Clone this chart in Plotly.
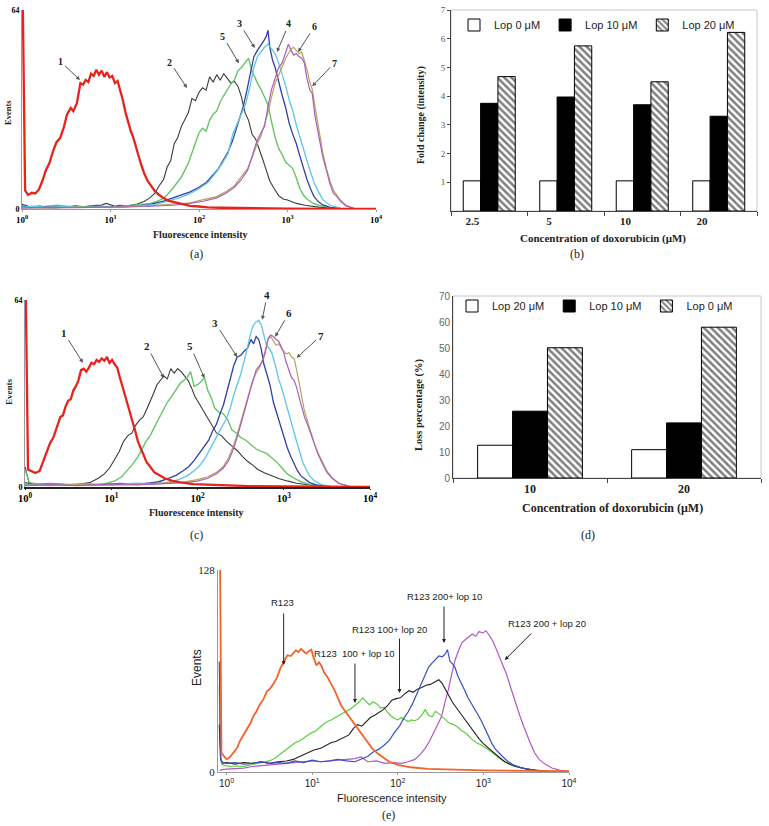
import numpy as np
import plotly.graph_objects as go

# ------------------------------------------------------------------ data
# histogram curves: channel position in decades (log10 of intensity) and event counts
A1_LOG = [0, 0.01, 0.035, 0.07, 0.11, 0.15, 0.19, 0.23, 0.27, 0.31, 0.35, 0.39, 0.43, 0.47, 0.51, 0.55, 0.58, 0.62, 0.66, 0.69, 0.72, 0.75, 0.78, 0.81, 0.84, 0.87, 0.9, 0.93, 0.96, 0.99, 1.02, 1.05, 1.08, 1.11, 1.14, 1.17, 1.2, 1.23, 1.26, 1.29, 1.32, 1.35, 1.38, 1.42, 1.46, 1.5, 1.55, 1.6, 1.66, 1.72, 1.8, 1.9, 2.0, 2.1, 2.25, 2.45, 2.7, 3.0, 3.5, 4.0]
A1_CNT = [66, 64, 6, 4.5, 5.2, 5.0, 6.2, 9.0, 12.5, 14.8, 18.5, 21.5, 22.8, 26, 30.5, 32.5, 31.5, 34, 40.5, 40, 41.5, 40.8, 43.5, 42.8, 44.8, 43.2, 44.5, 42.5, 44, 42.3, 42.8, 40.5, 41.2, 38.5, 35, 31, 27.5, 25, 22.8, 19.5, 16.8, 14, 11.5, 9, 7.2, 5.8, 4.5, 3.5, 2.6, 2.2, 1.5, 1.0, 0.8, 0.5, 0.4, 0.3, 0.2, 0.1, 0.05, 0]
A2_LOG = [0, 0.1, 0.2, 0.3, 0.4, 0.5, 0.6, 0.7, 0.8, 0.9, 0.95, 1.0, 1.05, 1.1, 1.2, 1.3, 1.38, 1.44, 1.5, 1.55, 1.6, 1.64, 1.68, 1.72, 1.76, 1.8, 1.84, 1.88, 1.92, 1.96, 2.0, 2.04, 2.08, 2.12, 2.16, 2.2, 2.24, 2.28, 2.32, 2.36, 2.4, 2.44, 2.48, 2.52, 2.56, 2.6, 2.64, 2.68, 2.72, 2.76, 2.8, 2.85, 2.9, 2.95, 3.0, 3.1, 3.2, 3.35, 3.5, 3.7]
A2_CNT = [1.5, 0.6, 0.9, 0.5, 0.8, 0.6, 1.0, 0.7, 1.1, 1.3, 1.8, 1.4, 0.9, 1.2, 1.0, 1.6, 2.4, 3.5, 5, 7.5, 9.5, 13.5, 15.5, 21, 23, 26.5, 29, 31, 35.5, 34.8, 37.5, 39, 38.2, 42.5, 40.8, 43.2, 41.5, 43.5, 42.0, 40.5, 41, 39.5, 36, 31, 28.5, 24, 22.5, 19.5, 16, 12.5, 9, 6.5, 4.3, 3.2, 2.9, 1.8, 1.2, 0.6, 0.3, 0]
A5_LOG = [0, 0.1, 0.25, 0.4, 0.6, 0.8, 1.0, 1.2, 1.35, 1.45, 1.52, 1.58, 1.64, 1.7, 1.75, 1.8, 1.84, 1.88, 1.92, 1.96, 2.0, 2.04, 2.08, 2.12, 2.16, 2.2, 2.24, 2.28, 2.32, 2.36, 2.4, 2.44, 2.48, 2.52, 2.56, 2.6, 2.63, 2.66, 2.7, 2.74, 2.78, 2.82, 2.86, 2.9, 2.94, 2.98, 3.02, 3.06, 3.1, 3.14, 3.18, 3.22, 3.28, 3.35, 3.45, 3.6]
A5_CNT = [1.0, 0.5, 0.8, 1.2, 0.6, 0.9, 0.6, 1.0, 1.5, 1.8, 2.4, 3.2, 4.5, 6.5, 8.3, 10.2, 12.5, 14.8, 18, 21.5, 24.5, 26, 25, 28.5, 30.5, 31.5, 34.5, 36.5, 38.5, 40.2, 41.5, 44.5, 45.5, 47, 48.5, 44, 42.5, 40.5, 38.5, 36, 33.5, 28, 23, 19.5, 17.5, 15, 14, 13, 10, 6.5, 4.5, 3.2, 2.0, 1.2, 0.6, 0.2]
A3_LOG = [0, 0.1, 0.2, 0.35, 0.5, 0.7, 0.9, 1.1, 1.3, 1.45, 1.6, 1.7, 1.8, 1.9, 2.0, 2.08, 2.16, 2.22, 2.28, 2.33, 2.38, 2.42, 2.46, 2.5, 2.54, 2.58, 2.62, 2.66, 2.7, 2.73, 2.76, 2.78, 2.8, 2.83, 2.86, 2.9, 2.94, 2.98, 3.02, 3.06, 3.1, 3.14, 3.18, 3.22, 3.26, 3.3, 3.35, 3.4, 3.48, 3.6]
A3_CNT = [0.8, 0.5, 0.9, 0.4, 0.7, 0.5, 0.8, 0.6, 1.0, 1.5, 2.5, 3.5, 4.5, 5.5, 7, 8.5, 11, 13, 16, 18.5, 22, 25.5, 29, 33, 38, 44, 49, 51, 52.5, 54, 55.5, 57.5, 52, 48, 45.5, 40.5, 36.5, 32.5, 27.5, 24, 21, 17, 13, 9.5, 6.5, 4, 2.3, 1.3, 0.5, 0.1]
A4_LOG = [0, 0.15, 0.3, 0.5, 0.7, 0.9, 1.1, 1.3, 1.5, 1.65, 1.8, 1.9, 2.0, 2.1, 2.2, 2.27, 2.33, 2.38, 2.43, 2.48, 2.53, 2.58, 2.62, 2.66, 2.7, 2.74, 2.78, 2.82, 2.86, 2.9, 2.94, 2.98, 3.02, 3.06, 3.1, 3.14, 3.18, 3.22, 3.26, 3.3, 3.35, 3.4, 3.48, 3.6]
A4_CNT = [0.6, 0.9, 0.5, 0.8, 0.5, 0.7, 0.6, 0.9, 1.4, 2.5, 3.8, 5, 6.5, 8.5, 12, 15, 18, 24, 27.5, 30.5, 34, 40, 45.5, 49, 50.5, 52, 53, 51.5, 50, 47, 43.5, 39.5, 35, 31.5, 27, 23, 19.5, 15.5, 12, 8.5, 5.5, 3, 1.2, 0.3]
A6_LOG = [0, 0.3, 0.6, 1.0, 1.4, 1.7, 1.9, 2.05, 2.2, 2.3, 2.4, 2.48, 2.55, 2.6, 2.65, 2.7, 2.74, 2.78, 2.82, 2.86, 2.9, 2.94, 2.98, 3.01, 3.04, 3.07, 3.1, 3.13, 3.16, 3.19, 3.22, 3.25, 3.28, 3.31, 3.34, 3.37, 3.4, 3.44, 3.48, 3.52, 3.56, 3.6, 3.66, 3.75]
A6_CNT = [0.3, 0.5, 0.4, 0.6, 0.8, 1.2, 1.8, 2.5, 3.6, 5, 7, 9.5, 12.5, 17, 21.5, 24.5, 26.5, 33, 38.5, 42, 45.5, 47, 50.5, 53, 51, 49.5, 50, 49, 48.5, 47, 42, 38.5, 37, 30, 25.5, 21.5, 16.5, 12.5, 8, 5, 4, 2.5, 1, 0.2]
A7_LOG = [0, 0.3, 0.6, 1.0, 1.4, 1.7, 1.9, 2.05, 2.2, 2.3, 2.4, 2.48, 2.55, 2.6, 2.65, 2.7, 2.74, 2.78, 2.82, 2.86, 2.9, 2.94, 2.98, 3.01, 3.04, 3.07, 3.1, 3.13, 3.16, 3.19, 3.22, 3.25, 3.28, 3.31, 3.34, 3.37, 3.4, 3.44, 3.48, 3.52, 3.56, 3.6, 3.66, 3.75]
A7_CNT = [0.4, 0.3, 0.6, 0.5, 0.9, 1.5, 2.0, 3.0, 4.0, 5.5, 7.5, 10.5, 13, 16.5, 20.5, 23.5, 27, 31, 36, 40.5, 43, 46, 48.5, 50, 51.5, 52, 51, 50, 50.5, 48, 45, 41, 38.5, 33, 28, 23, 18, 13, 9, 6, 4.5, 2.8, 1.2, 0.2]

C1_LOG = [0, 0.01, 0.035, 0.07, 0.12, 0.17, 0.21, 0.25, 0.29, 0.33, 0.37, 0.41, 0.44, 0.47, 0.5, 0.53, 0.56, 0.59, 0.62, 0.65, 0.68, 0.71, 0.74, 0.77, 0.8, 0.83, 0.86, 0.89, 0.92, 0.95, 0.98, 1.01, 1.04, 1.07, 1.1, 1.13, 1.16, 1.19, 1.22, 1.25, 1.28, 1.31, 1.34, 1.37, 1.41, 1.45, 1.5, 1.56, 1.62, 1.7, 1.8, 1.95, 2.1, 2.3, 2.6, 3.0, 3.5, 4.0]
C1_CNT = [66, 64, 6, 5.5, 4.8, 5.5, 8.5, 12, 15, 17, 20.5, 24, 24.5, 27.5, 29.5, 30, 33, 34.5, 36.5, 40, 40.5, 39.5, 40.8, 42.5, 42, 43.5, 42.8, 44, 43.2, 44.5, 42.5, 43.5, 42, 40.8, 37.5, 34.5, 31, 28, 25, 22, 19, 15.5, 13.5, 11.5, 8.5, 7, 5, 4, 3, 2.2, 1.6, 1.0, 0.8, 0.5, 0.3, 0.2, 0.1, 0]
C2_LOG = [0, 0.05, 0.2, 0.4, 0.6, 0.75, 0.85, 0.92, 0.98, 1.04, 1.09, 1.14, 1.19, 1.24, 1.28, 1.33, 1.37, 1.41, 1.45, 1.49, 1.53, 1.57, 1.61, 1.65, 1.69, 1.73, 1.77, 1.81, 1.85, 1.89, 1.93, 1.97, 2.01, 2.06, 2.11, 2.16, 2.22, 2.28, 2.34, 2.4, 2.46, 2.52, 2.58, 2.64, 2.7, 2.78, 2.86, 2.95, 3.05, 3.15, 3.3, 3.5]
C2_CNT = [7, 1, 0.6, 0.9, 0.8, 1.5, 3, 4.5, 6.5, 9.5, 12, 15.5, 17.5, 18.5, 21, 23, 24, 26.5, 29, 32, 35, 36.5, 38, 37, 40.5, 39, 40.5, 39.5, 38, 36.5, 34, 31, 29, 26.5, 23.5, 21, 18.5, 17.5, 15.5, 14, 12.5, 10.5, 8.8, 7.5, 6, 4.8, 3.8, 2.8, 2, 1.3, 0.7, 0.2]
C5_LOG = [0, 0.05, 0.2, 0.4, 0.6, 0.8, 0.95, 1.05, 1.12, 1.18, 1.24, 1.3, 1.35, 1.4, 1.45, 1.5, 1.55, 1.6, 1.65, 1.7, 1.75, 1.8, 1.84, 1.88, 1.92, 1.96, 2.0, 2.04, 2.08, 2.12, 2.16, 2.2, 2.25, 2.3, 2.35, 2.4, 2.45, 2.5, 2.56, 2.62, 2.68, 2.74, 2.8, 2.86, 2.92, 2.98, 3.04, 3.12, 3.2, 3.3, 3.45]
C5_CNT = [6, 1.5, 0.8, 0.6, 0.9, 0.7, 1.3, 2.2, 3.5, 5.5, 7.5, 10, 12.5, 15.5, 17.5, 20.5, 23.5, 26.5, 29, 31, 33.5, 35.5, 36.5, 37.5, 39.5, 34.5, 35, 36, 37.5, 33, 30.5, 27, 25.5, 25, 23, 19.5, 18.5, 17, 16, 14.5, 13, 12.2, 11.5, 10, 8.5, 6.5, 4.5, 3, 1.8, 0.9, 0.3]
C3_LOG = [0, 0.1, 0.3, 0.5, 0.7, 0.9, 1.1, 1.3, 1.45, 1.55, 1.65, 1.75, 1.83, 1.9, 1.96, 2.02, 2.08, 2.13, 2.18, 2.22, 2.26, 2.3, 2.34, 2.38, 2.42, 2.46, 2.5, 2.54, 2.58, 2.62, 2.65, 2.68, 2.71, 2.74, 2.77, 2.8, 2.84, 2.88, 2.92, 2.96, 3.0, 3.04, 3.08, 3.12, 3.16, 3.2, 3.25, 3.3, 3.38, 3.5]
C3_CNT = [1.5, 0.8, 1.2, 0.7, 1.0, 0.8, 1.2, 1.0, 1.4, 1.8, 2.8, 4, 5.5, 7, 9, 11.5, 14, 16, 19.5, 21.5, 25, 28, 32.5, 37, 41.5, 44.5, 45, 46.5, 47.5, 50.5, 49, 51.5, 50.5, 47, 42, 39, 35, 29, 25, 21, 17, 13.5, 10.5, 8, 5.5, 3.8, 2.5, 1.5, 0.7, 0.2]
C4_LOG = [0, 0.1, 0.3, 0.5, 0.7, 0.9, 1.1, 1.3, 1.5, 1.65, 1.78, 1.88, 1.96, 2.03, 2.1, 2.16, 2.22, 2.28, 2.33, 2.38, 2.42, 2.46, 2.5, 2.54, 2.58, 2.62, 2.65, 2.68, 2.71, 2.74, 2.77, 2.8, 2.83, 2.86, 2.9, 2.94, 2.98, 3.02, 3.06, 3.1, 3.14, 3.18, 3.22, 3.26, 3.3, 3.36, 3.44, 3.55]
C4_CNT = [1.0, 0.7, 1.1, 0.8, 1.1, 0.7, 1.0, 1.3, 1.0, 1.6, 2.5, 3.8, 5.5, 7.5, 10.5, 14, 17, 20.5, 23, 27, 31.5, 35, 38.5, 43, 48, 53, 55.5, 56.5, 57, 55.5, 52, 48.5, 47.5, 46, 42, 37, 33.5, 29, 24.5, 20.5, 16.5, 12.5, 8.5, 6, 3.8, 2, 0.8, 0.2]
C6_LOG = [0, 0.3, 0.6, 1.0, 1.3, 1.6, 1.85, 2.0, 2.12, 2.22, 2.3, 2.36, 2.41, 2.46, 2.51, 2.56, 2.6, 2.64, 2.68, 2.72, 2.76, 2.79, 2.82, 2.85, 2.88, 2.91, 2.94, 2.97, 3.0, 3.03, 3.06, 3.09, 3.12, 3.15, 3.18, 3.21, 3.24, 3.28, 3.32, 3.36, 3.4, 3.45, 3.5, 3.56, 3.64, 3.75]
C6_CNT = [0.5, 0.8, 0.5, 0.9, 0.7, 1.0, 1.5, 2.0, 3.0, 4.5, 6.5, 9, 12.5, 17, 22, 27.5, 32, 36, 40, 41.5, 43.5, 46.5, 51, 52, 51.5, 50.5, 50, 48, 46, 42.5, 40, 37.5, 36.5, 34, 30.5, 27, 24, 21, 17.5, 14, 11, 8, 5, 3, 1.2, 0.3]
C7_LOG = [0, 0.3, 0.6, 1.0, 1.3, 1.6, 1.85, 2.0, 2.12, 2.22, 2.3, 2.36, 2.41, 2.46, 2.51, 2.56, 2.6, 2.64, 2.68, 2.72, 2.76, 2.79, 2.82, 2.85, 2.88, 2.91, 2.94, 2.97, 3.0, 3.03, 3.06, 3.09, 3.12, 3.15, 3.18, 3.21, 3.24, 3.28, 3.32, 3.36, 3.4, 3.45, 3.5, 3.56, 3.64, 3.75]
C7_CNT = [0.7, 0.5, 0.9, 0.6, 1.0, 1.3, 1.8, 2.5, 3.5, 5, 7, 10, 13.5, 18, 23, 28, 32.5, 36.5, 39, 41, 44, 47, 50.5, 51.5, 50, 48.5, 49, 47.5, 46.5, 45.5, 46, 44.5, 44, 40, 35, 30, 26, 22, 18, 14.5, 11.5, 8.5, 5.5, 3.2, 1.3, 0.3]

E_R123_LOG = [-0.085, -0.075, -0.06, -0.03, 0.0, 0.04, 0.08, 0.12, 0.16, 0.2, 0.24, 0.28, 0.31, 0.35, 0.39, 0.43, 0.47, 0.51, 0.55, 0.59, 0.63, 0.67, 0.71, 0.75, 0.78, 0.81, 0.84, 0.87, 0.9, 0.93, 0.96, 0.99, 1.02, 1.05, 1.08, 1.11, 1.14, 1.18, 1.22, 1.26, 1.3, 1.34, 1.38, 1.42, 1.46, 1.5, 1.55, 1.6, 1.65, 1.7, 1.76, 1.82, 1.9, 2.0, 2.15, 2.35, 2.6, 3.0, 3.5, 4.0]
E_R123_CNT = [140, 130, 12, 10, 8, 9.5, 12, 15, 20, 23.5, 27, 31, 35, 38.5, 43, 46, 51, 53, 56, 60, 66, 70, 74, 73.5, 75.5, 77, 76, 78, 76.5, 75, 76.5, 77.5, 72, 67.5, 69.5, 67, 63, 60, 56, 52, 47, 42, 39, 36, 33, 30, 27, 23, 19, 15, 12, 9.5, 6.5, 4.5, 3, 2, 1.5, 1, 0.7, 0.5]
E_L10_LOG = [-0.085, -0.075, -0.06, -0.02, 0.05, 0.12, 0.2, 0.28, 0.36, 0.43, 0.5, 0.56, 0.62, 0.68, 0.74, 0.8, 0.86, 0.92, 0.98, 1.04, 1.1, 1.16, 1.22, 1.28, 1.34, 1.4, 1.45, 1.5, 1.55, 1.59, 1.63, 1.67, 1.71, 1.76, 1.8, 1.84, 1.88, 1.92, 1.96, 2.0, 2.04, 2.08, 2.12, 2.16, 2.2, 2.24, 2.28, 2.32, 2.36, 2.4, 2.44, 2.48, 2.52, 2.56, 2.6, 2.65, 2.7, 2.75, 2.8, 2.86, 2.92, 2.98, 3.04, 3.1, 3.16, 3.22, 3.3, 3.4, 3.55, 3.75]
E_L10_CNT = [55, 20, 5, 4, 3.5, 3.8, 3.6, 4.5, 5.5, 6, 7, 8.5, 11, 14, 16, 18.5, 20, 22.5, 24.5, 26, 29, 31.5, 33, 35, 36.5, 38.5, 40, 42, 44.5, 47, 45, 42.5, 44.5, 43, 40.5, 41, 38, 35.5, 34, 33, 34.5, 33.5, 32, 33, 32.5, 33.5, 36, 39.5, 36, 35, 38.5, 37, 35, 33.5, 31, 30, 28.5, 26, 24.5, 21, 18.5, 17, 15, 12.5, 10, 7.5, 5, 3, 1.5, 0.5]
E_L20_LOG = [-0.085, -0.07, -0.04, 0.0, 0.1, 0.2, 0.3, 0.4, 0.5, 0.6, 0.7, 0.78, 0.86, 0.94, 1.02, 1.1, 1.16, 1.22, 1.28, 1.33, 1.38, 1.43, 1.48, 1.53, 1.58, 1.63, 1.68, 1.73, 1.78, 1.83, 1.88, 1.93, 1.98, 2.03, 2.08, 2.13, 2.18, 2.23, 2.28, 2.33, 2.38, 2.43, 2.48, 2.52, 2.56, 2.6, 2.64, 2.68, 2.72, 2.76, 2.8, 2.85, 2.9, 2.95, 3.0, 3.06, 3.12, 3.18, 3.25, 3.35, 3.5, 3.7]
E_L20_CNT = [30, 8, 5.5, 6, 5, 6, 5.5, 6.5, 5.5, 6.5, 7, 8, 10, 12, 14, 15, 17, 18.5, 19.5, 21, 22, 23.5, 27.5, 30, 29, 31.5, 34.5, 36, 37.5, 39.5, 42, 45.5, 46.5, 47, 49.5, 51.5, 50.5, 52.5, 53.5, 55, 55.5, 57, 58.5, 56, 52, 48, 44, 41, 38, 35, 31.5, 28, 24, 21, 18, 15, 12.5, 9.5, 6.5, 4, 2, 0.5]
E_H10_LOG = [-0.085, -0.08, -0.07, -0.05, 0.0, 0.1, 0.2, 0.3, 0.4, 0.5, 0.6, 0.7, 0.8, 0.9, 1.0, 1.1, 1.2, 1.3, 1.4, 1.5, 1.58, 1.65, 1.72, 1.78, 1.84, 1.9, 1.96, 2.02, 2.07, 2.12, 2.17, 2.22, 2.27, 2.32, 2.36, 2.4, 2.44, 2.48, 2.52, 2.55, 2.58, 2.61, 2.64, 2.67, 2.7, 2.74, 2.78, 2.82, 2.86, 2.9, 2.94, 2.98, 3.02, 3.06, 3.1, 3.14, 3.18, 3.23, 3.28, 3.35, 3.45, 3.6, 3.8]
E_H10_CNT = [70, 40, 8, 6, 5.5, 6, 5, 5.5, 6.5, 5.5, 6, 5.5, 7, 6, 7.5, 6.5, 7, 8, 7, 6.5, 8.5, 10, 13, 14.5, 17, 20, 25, 29, 34, 38, 43, 49, 56, 62, 66.5, 69, 71.5, 73.5, 73, 74.5, 77.5, 70, 68.5, 66, 61, 57, 52, 47, 43.5, 40, 36, 32, 27, 22.5, 18, 14.5, 12, 9.5, 7, 4.5, 2.5, 1, 0.3]
E_H20_LOG = [-0.08, -0.05, 0.0, 0.1, 0.2, 0.3, 0.4, 0.5, 0.6, 0.7, 0.8, 0.9, 1.0, 1.1, 1.2, 1.3, 1.4, 1.5, 1.57, 1.65, 1.75, 1.85, 1.95, 2.05, 2.12, 2.2, 2.26, 2.32, 2.37, 2.42, 2.47, 2.51, 2.55, 2.59, 2.63, 2.67, 2.71, 2.75, 2.79, 2.83, 2.87, 2.91, 2.95, 2.99, 3.03, 3.07, 3.11, 3.15, 3.19, 3.23, 3.27, 3.31, 3.35, 3.39, 3.43, 3.47, 3.51, 3.55, 3.6, 3.65, 3.72, 3.8, 3.9, 4.0]
E_H20_CNT = [1, 1.5, 1.8, 2.2, 2.5, 3.5, 4, 4.5, 5, 5.5, 6, 6.5, 7, 6.5, 7, 7.5, 8, 8.5, 9.5, 6.5, 7, 5.5, 6, 5.5, 6.5, 8, 11, 15, 19.5, 25, 30, 35, 44, 52, 62, 71, 77, 82, 84, 86, 87.5, 86, 89, 88, 89.5, 86.5, 83, 78, 73, 68, 62, 55, 48, 41, 35, 29, 23, 18, 12, 8, 5, 2.5, 1, 0.3]

# bar charts
CATS_B = ["2.5", "5", "10", "20"]
B_LOP0 = [1.05, 1.05, 1.05, 1.05]
B_LOP10 = [3.75, 3.97, 3.70, 3.30]
B_LOP20 = [4.68, 5.75, 4.50, 6.22]
B_NAMES = ["Lop 0 \u03bcM", "Lop 10 \u03bcM", "Lop 20 \u03bcM"]

CATS_D = ["10", "20"]
D_LOP20 = [12.6, 10.9]
D_LOP10 = [25.7, 21.2]
D_LOP0 = [50.1, 58.0]
D_NAMES = ["Lop 20 \u03bcM", "Lop 10 \u03bcM", "Lop 0 \u03bcM"]

HIST_TICKVALS = [1, 10, 100, 1000, 10000]
HIST_TICKTEXT = ["10<sup>0</sup>", "10<sup>1</sup>", "10<sup>2</sup>", "10<sup>3</sup>", "10<sup>4</sup>"]

# ------------------------------------------------------------------ figure
W, H = 769, 826
SERIF = "Liberation Serif"
SANS = "Liberation Sans"


def fx(p):
    return p / W


def fy(p):
    return 1 - p / H


RED = "#e8231c"
BLACK = "#3a3a3a"
GREEN = "#66c666"
BLUE = "#3140a8"
CYAN = "#5cc6e6"
PURPLE = "#a860b8"
TAN = "#b9a25e"

fig = go.Figure()


def add_hist(logx, cnt, color, width, xa, ya):
    fig.add_trace(go.Scatter(x=np.power(10.0, np.array(logx)), y=cnt, mode="lines",
                             line=dict(color=color, width=width), xaxis=xa, yaxis=ya,
                             showlegend=False, hoverinfo="skip"))


# panel (a)
for lx, c, col, w in [(A2_LOG, A2_CNT, BLACK, 1.1), (A5_LOG, A5_CNT, GREEN, 1.4),
                      (A3_LOG, A3_CNT, BLUE, 1.3), (A4_LOG, A4_CNT, CYAN, 1.3),
                      (A7_LOG, A7_CNT, TAN, 1.2), (A6_LOG, A6_CNT, PURPLE, 1.2),
                      (A1_LOG, A1_CNT, RED, 2.3)]:
    add_hist(lx, c, col, w, "x", "y")

# panel (c)
for lx, c, col, w in [(C2_LOG, C2_CNT, BLACK, 1.1), (C5_LOG, C5_CNT, GREEN, 1.4),
                      (C3_LOG, C3_CNT, BLUE, 1.3), (C4_LOG, C4_CNT, CYAN, 1.3),
                      (C7_LOG, C7_CNT, TAN, 1.2), (C6_LOG, C6_CNT, PURPLE, 1.2),
                      (C1_LOG, C1_CNT, RED, 2.3)]:
    add_hist(lx, c, col, w, "x4", "y4")

# panel (e)
for lx, c, col, w in [(E_H20_LOG, E_H20_CNT, "#b455c8", 1.2), (E_L10_LOG, E_L10_CNT, "#5ccc3c", 1.2),
                      (E_L20_LOG, E_L20_CNT, "#222222", 1.1), (E_H10_LOG, E_H10_CNT, "#3550c0", 1.2),
                      (E_R123_LOG, E_R123_CNT, "#f4622c", 1.8)]:
    add_hist(lx, c, col, w, "x5", "y5")

# bars
hatch = dict(shape="\\", fgcolor="black", bgcolor="white", size=5, solidity=0.5)
pos_b = list(range(len(CATS_B)))
for vals, name, mk in [(B_LOP0, B_NAMES[0], dict(color="white")),
                       (B_LOP10, B_NAMES[1], dict(color="black")),
                       (B_LOP20, B_NAMES[2], dict(color="white", pattern=hatch))]:
    mk = dict(mk, line=dict(color="black", width=1))
    fig.add_trace(go.Bar(x=pos_b, y=vals, name=name, marker=mk, xaxis="x2", yaxis="y2",
                         legend="legend", hoverinfo="skip"))

pos_d = list(range(len(CATS_D)))
for vals, name, mk in [(D_LOP20, D_NAMES[0], dict(color="white")),
                       (D_LOP10, D_NAMES[1], dict(color="black")),
                       (D_LOP0, D_NAMES[2], dict(color="white", pattern=hatch))]:
    mk = dict(mk, line=dict(color="black", width=1))
    fig.add_trace(go.Bar(x=pos_d, y=vals, name=name, marker=mk, xaxis="x3", yaxis="y3",
                         legend="legend2", hoverinfo="skip"))

hist_x_common = dict(type="log", tickmode="array", tickvals=HIST_TICKVALS, ticktext=HIST_TICKTEXT,
                     showgrid=False, zeroline=False, showline=True, ticks="outside", ticklen=2)

fig.update_layout(
    width=W, height=H, margin=dict(l=0, r=0, t=0, b=0, autoexpand=False),
    paper_bgcolor="white", plot_bgcolor="white",
    barmode="group", bargap=0.32, bargroupgap=0,
    xaxis=dict(hist_x_common, domain=[fx(22), fx(376)], range=[0, 4], anchor="y",
               linecolor="#9a9a9a", tickcolor="#9a9a9a",
               tickfont=dict(family=SERIF, size=9, color="black", weight="bold")),
    yaxis=dict(domain=[fy(209), fy(10)], range=[0, 64], anchor="x", tickmode="array", tickvals=[0, 64],
               showgrid=False, zeroline=False, showline=True, linecolor="#9a9a9a", ticks="",
               tickfont=dict(family=SERIF, size=8, color="black", weight="bold")),
    xaxis4=dict(hist_x_common, domain=[fx(25), fx(370)], range=[0, 4], anchor="y4",
                linecolor="#222", linewidth=1.5, tickcolor="#222", ticklen=1,
                tickfont=dict(family=SERIF, size=10.5, color="black", weight="bold")),
    yaxis4=dict(domain=[fy(487), fy(300)], range=[0, 64], anchor="x4", tickmode="array", tickvals=[0, 64],
                showgrid=False, zeroline=False, showline=True, linecolor="#9a9a9a", ticks="",
                tickfont=dict(family=SERIF, size=8, color="black", weight="bold")),
    xaxis5=dict(hist_x_common, domain=[fx(218), fx(569)], range=[-0.1, 4], anchor="y5",
                linecolor="#9a9a9a", tickcolor="#9a9a9a",
                tickfont=dict(family=SANS, size=10, color="#222")),
    yaxis5=dict(domain=[fy(772), fy(570)], range=[0, 128], anchor="x5", tickmode="array", tickvals=[0, 128],
                showgrid=False, zeroline=False, showline=True, linecolor="#9a9a9a", ticks="",
                tickfont=dict(family=SERIF, size=11, color="#222")),
    xaxis2=dict(domain=[fx(451), fx(757)], range=[-0.5, len(CATS_B) - 0.5], anchor="y2",
                tickmode="array", tickvals=[p - 0.22 for p in pos_b], ticktext=CATS_B, ticks="",
                tickfont=dict(family=SERIF, size=11, color="#222", weight="bold"),
                minor=dict(tickmode="array", tickvals=[p - 0.5 for p in pos_b] + [len(CATS_B) - 0.5],
                           ticks="outside", ticklen=4, tickcolor="#444"),
                showgrid=False, zeroline=False, showline=True, linecolor="#444"),
    yaxis2=dict(domain=[fy(211), fy(10)], range=[0, 7], anchor="x2", tickmode="array",
                tickvals=[1, 2, 3, 4, 5, 6, 7], ticks="outside", ticklen=3, tickcolor="#444",
                tickfont=dict(family=SERIF, size=9, color="#555"),
                showgrid=False, zeroline=False, showline=True, linecolor="#444"),
    xaxis3=dict(domain=[fx(453), fx(761)], range=[-0.5, len(CATS_D) - 0.5], anchor="y3",
                tickmode="array", tickvals=pos_d, ticktext=CATS_D, ticks="",
                tickfont=dict(family=SERIF, size=12, color="#222", weight="bold"),
                minor=dict(tickmode="array", tickvals=[p - 0.5 for p in pos_d] + [len(CATS_D) - 0.5],
                           ticks="outside", ticklen=4, tickcolor="#444"),
                showgrid=False, zeroline=False, showline=True, linecolor="#444"),
    yaxis3=dict(domain=[fy(478), fy(296)], range=[0, 70], anchor="x3", tickmode="linear", tick0=0, dtick=10,
                ticks="", tickfont=dict(family=SANS, size=10, color="#666"),
                showgrid=False, zeroline=False, showline=True, linecolor="#444"),
    legend=dict(orientation="h", x=fx(454), y=fy(25), xanchor="left", yanchor="middle",
                font=dict(family=SANS, size=11, color="#222"), bgcolor="rgba(0,0,0,0)",
                traceorder="normal"),
    legend2=dict(orientation="h", x=fx(452), y=fy(306), xanchor="left", yanchor="middle",
                 font=dict(family=SANS, size=11, color="#222"), bgcolor="rgba(0,0,0,0)",
                 traceorder="normal"),
)

# light frames around the bar charts
for xa, ya in [("x2", "y2"), ("x3", "y3")]:
    fig.add_shape(type="rect", xref=xa + " domain", yref=ya + " domain", x0=0, x1=1, y0=0, y1=1,
                  line=dict(color="#c8c8c8", width=1), layer="below")

# curve labels with arrows
ARROW = dict(showarrow=True, arrowhead=2, arrowsize=0.8, arrowwidth=1, arrowcolor="#555")
A_MARKS = [("1", 0.655, 41.5, -19, -18), ("2", 1.864, 38.9, -17, -26), ("5", 2.45, 46.9, -16, -27),
           ("3", 2.63, 51.8, -15, -24), ("4", 2.88, 50.5, 12, -28), ("6", 3.12, 50.5, 16, -25),
           ("7", 3.28, 39.5, 22, -23)]
for t, x, y, ax, ay in A_MARKS:
    fig.add_annotation(dict(ARROW, x=x, y=y, ax=ax, ay=ay, xref="x", yref="y", text=t,
                            font=dict(family=SERIF, size=10, color="#222", weight="bold")))
C_MARKS = [("1", 0.672, 42.5, -19, -30), ("2", 1.61, 37.3, -17, -32), ("5", 2.08, 37.3, -14, -32),
           ("3", 2.46, 44.5, -22, -34), ("4", 2.75, 57.2, 5, -25), ("6", 2.9, 51.4, 14, -24),
           ("7", 3.15, 44.2, 24, -22)]
for t, x, y, ax, ay in C_MARKS:
    fig.add_annotation(dict(ARROW, x=x, y=y, ax=ax, ay=ay, xref="x4", yref="y4", text=t,
                            font=dict(family=SERIF, size=11, color="#222", weight="bold")))
E_MARKS = [("R123", 0.667, 67.8, 0, -53, 0.655, 107.7),
           ("R123  100 + lop 10", 1.5, 43.7, 0, -41, 1.5, 75.4),
           ("R123 100+ lop 20", 2.02, 50, 0, -56, 1.906, 90.6),
           ("R123 200+ lop 10", 2.54, 81.7, 0, -38, 2.55, 110.9),
           ("R123 200 + lop 20", 3.25, 71, 28, -28, 3.74, 94.4)]
for t, x, y, ax, ay, tx, ty in E_MARKS:
    fig.add_annotation(dict(ARROW, x=x, y=y, ax=ax, ay=ay, xref="x5", yref="y5", text="",
                            arrowcolor="#222"))
    fig.add_annotation(x=tx, y=ty, xref="x5", yref="y5", text=t, showarrow=False,
                       font=dict(family=SANS, size=9.5, color="#222"))

# axis titles and panel captions
def note(text, px, py, size, family=SERIF, bold=False, angle=0, color="#222"):
    fig.add_annotation(x=fx(px), y=fy(py), xref="paper", yref="paper", text=text, showarrow=False,
                       textangle=angle, xanchor="center", yanchor="middle",
                       font=dict(family=family, size=size, color=color, weight="bold" if bold else "normal"))


note("Fluorescence intensity", 200, 235, 10, bold=True)
note("Events", 8, 113, 8.5, bold=True, angle=-90)
note("(a)", 197, 254, 12)
note("Fold change (intensity)", 421, 115, 10, bold=True, angle=-90)
note("Concentration of doxorubicin (\u03bcM)", 603, 238, 11, bold=True)
note("(b)", 577, 254, 12)
note("Fluorescence intensity", 197, 512, 10, bold=True)
note("Events", 9, 392, 9, bold=True, angle=-90)
note("(c)", 197, 535, 12)
note("Loss percentage (%)", 419, 405, 10.5, bold=True, angle=-90)
note("Concentration of doxorubicin (\u03bcM)", 612, 508, 12, bold=True)
note("(d)", 588, 535, 12)
note("Events", 197, 667, 12, family=SANS, angle=-90)
note("Fluorescence intensity", 392, 798, 11, family=SANS)
note("(e)", 388, 815, 12)

# the page is shown edge to edge: drop the browser's default body margin, no mode bar
fig.write_html("out.html", config={"displayModeBar": False},
               post_script="document.body.style.margin='0px';document.body.style.overflow='hidden';")
